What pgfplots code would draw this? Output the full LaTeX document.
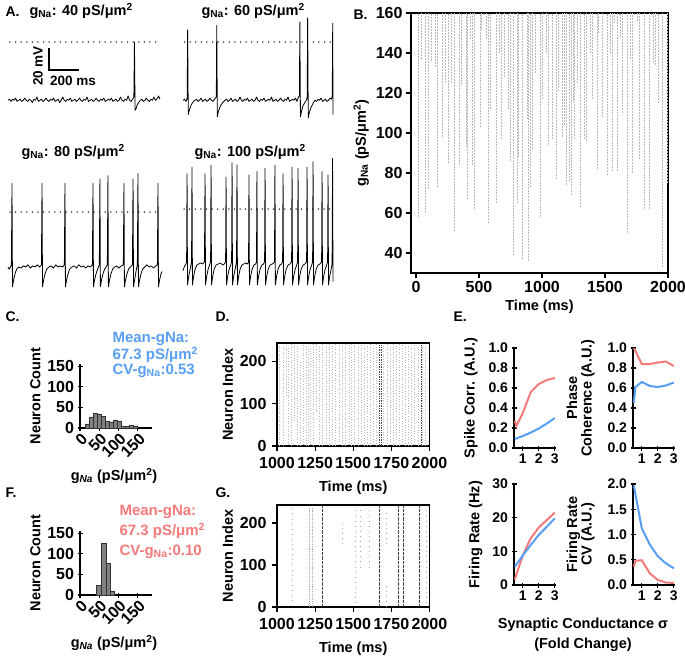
\documentclass[border=0pt]{standalone}
\usepackage{fontspec}
\setmainfont{Liberation Sans}
\usepackage{pgfplots}
\pgfplotsset{compat=1.18}

\definecolor{pk}{RGB}{245,122,122}
\definecolor{bl}{RGB}{88,158,242}
\newcommand\fz[1]{\fontsize{#1}{#1}\selectfont\bfseries}

\pgfplotsset{
  gp/.style={scale only axis, anchor=south west,
    axis line style={line width=1.2pt}, major tick style={line width=1.2pt, black},
    tick align=outside, major tick length=5pt,
    tick label style={font=\fz{16}}, label style={font=\fz{14.5}},
    /pgf/number format/assume math mode=true, /pgf/number format/1000 sep={},
    scaled ticks=false},
  trace/.style={hide axis, scale only axis, anchor=south west, height=154pt,
    xmin=0, xmax=1000, ymin=-80, ymax=60, clip=false},
  tr/.style={black, line width=0.8pt, line join=round},
  dotline/.style={black, line width=1.5pt, line cap=round, dash pattern=on 0pt off 5.6pt},
  eax/.style={gp, axis lines=left, axis line style={-}, width=41.6pt,
    xmin=0.45, xmax=3.05, xtick={1,2,3}, tick label style={font=\fz{14}}},
  raster/.style={draw=none, mark=none, forget plot,
    error bars/y dir=plus, error bars/y explicit, error bars/error mark=none,
    error bars/error bar style={#1}},
  hist/.style={gp, axis lines=left, axis line style={-}, width=72pt, height=63.8pt,
    xmin=0, xmax=187, ymin=0, ymax=155, xtick={0,50,100,150}, ytick={0,50,100,150},
    xticklabel style={rotate=45, anchor=east, xshift=3pt, yshift=-7pt},
    ylabel={Neuron Count}},
  rast/.style={gp, width=152.5pt, xmin=1000, xmax=2000, ymin=0, ymax=243,
    xtick={1000,1250,1500,1750,2000}, ytick={0,100,200},
    xtick pos=bottom, ytick pos=left, xticklabel shift=3pt, yticklabel shift=2pt,
    xlabel={Time (ms)}, ylabel={Neuron Index}, xlabel style={yshift=-5pt}},
}

\begin{document}
\begin{tikzpicture}

% ---- panel letters and titles
\node[anchor=west, font=\fz{14}] at (2pt,-12pt) {A.};
\node[anchor=west, font=\fz{14}] at (350pt,-15pt) {B.};
\node[anchor=west, font=\fz{14}] at (2pt,-317pt) {C.};
\node[anchor=west, font=\fz{14}] at (212pt,-317pt) {D.};
\node[anchor=west, font=\fz{14}] at (450pt,-317pt) {E.};
\node[anchor=west, font=\fz{14}] at (2pt,-493pt) {F.};
\node[anchor=west, font=\fz{14}] at (212pt,-493pt) {G.};

\node[anchor=west, font=\fz{14.5}] at (26pt,-11pt) {g\textsubscript{Na}: 40 pS/μm\textsuperscript{2}};
\node[anchor=west, font=\fz{14.5}] at (198pt,-11pt) {g\textsubscript{Na}: 60 pS/μm\textsuperscript{2}};
\node[anchor=west, font=\fz{14.5}] at (18pt,-152pt) {g\textsubscript{Na}: 80 pS/μm\textsuperscript{2}};
\node[anchor=west, font=\fz{14.5}] at (191pt,-152pt) {g\textsubscript{Na}: 100 pS/μm\textsuperscript{2}};

% scale bar
\draw[line width=1.3pt] (49pt,-48pt) -- (49pt,-70pt) -- (79pt,-70pt);
\node[rotate=90, font=\fz{13.5}] at (38pt,-66pt) {20 mV};
\node[anchor=west, font=\fz{13.5}, inner sep=0pt] at (50pt,-81pt) {200 ms};

% ---- A: voltage traces
\begin{axis}[trace, width=152pt, at={(8pt,-130pt)}]
\addplot[dotline] coordinates {(13,0)(980,0)};
\addplot[tr] coordinates {(0,-53)(10,-52)(20,-54)(30,-52)(40,-53)(50,-51)(60,-54)(70,-53)(80,-52)(90,-54)(100,-53)(110,-51)(120,-53)(130,-54)(140,-52)(150,-53)(160,-55)(170,-52)(180,-53)(190,-50)(200,-54)(210,-53)(220,-52)(230,-54)(240,-53)(250,-51)(260,-53)(270,-54)(280,-52)(290,-53)(300,-51)(310,-54)(320,-53)(330,-52)(340,-55)(350,-53)(360,-50)(370,-53)(380,-54)(390,-52)(400,-53)(410,-51)(420,-54)(430,-53)(440,-52)(450,-54)(460,-53)(470,-51)(480,-53)(490,-54)(500,-52)(510,-53)(520,-50)(530,-54)(540,-53)(550,-52)(560,-54)(570,-53)(580,-51)(590,-53)(600,-54)(610,-52)(620,-53)(630,-51)(640,-54)(650,-53)(660,-52)(670,-53)(680,-51)(690,-54)(700,-53)(710,-52)(720,-54)(730,-53)(740,-50)(750,-53)(760,-54)(770,-52)(780,-53)(790,-49)(800,-53)(810,-54)(820,-52)(828,-50)(832,0)(836,-62)(842,-61)(850,-57)(860,-55)(870,-53)(880,-52)(890,-54)(900,-53)(910,-51)(920,-53)(930,-54)(940,-52)(950,-53)(960,-50)(970,-53)(980,-52)(990,-49)(1000,-52)};
\end{axis}

\begin{axis}[trace, width=150pt, at={(183pt,-130pt)}]
\addplot[dotline] coordinates {(10,0)(1000,0)};
\addplot[tr] coordinates {(0,-53)(10,-52)(20,-54)(28,-51)(31,11)(35,-66)(42,-62)(55,-57)(70,-54)(80,-53)(90,-52)(100,-54)(110,-53)(120,-51)(130,-54)(140,-53)(150,-52)(160,-54)(170,-53)(180,-51)(190,-53)(200,-54)(210,-52)(222,-50)(225,15)(229,-68)(236,-63)(250,-58)(265,-55)(280,-53)(290,-52)(300,-54)(310,-53)(320,-51)(330,-54)(340,-53)(350,-52)(360,-54)(370,-53)(380,-50)(390,-53)(400,-54)(410,-52)(420,-53)(430,-51)(440,-54)(450,-53)(460,-52)(470,-54)(480,-53)(490,-50)(500,-53)(510,-54)(520,-52)(530,-53)(540,-51)(550,-54)(560,-53)(570,-52)(580,-53)(590,-50)(600,-54)(610,-53)(620,-52)(630,-54)(640,-53)(650,-51)(660,-53)(670,-54)(680,-52)(690,-53)(700,-50)(710,-54)(720,-53)(730,-52)(740,-53)(750,-51)(760,-54)(770,-50)(776,-49)(779,18)(783,-68)(790,-63)(800,-58)(812,-55)(822,-53)(828,-50)(831,22)(835,-69)(842,-64)(855,-59)(870,-55)(880,-53)(890,-54)(900,-52)(910,-53)(920,-51)(930,-54)(940,-53)(950,-52)(960,-54)(970,-53)(980,-51)(990,-52)(995,-49)(998,17)(1000,-66)};
\end{axis}

\begin{axis}[trace, width=154pt, at={(8pt,-300pt)}]
\addplot[dotline] coordinates {(13,0)(975,0)};
\addplot[tr] coordinates {(0,-50)(8,-52)(16,-50)(22,-48)(26,26)(29,-68)(36,-62)(46,-56)(56,-52)(70,-50)(85,-51)(100,-49)(115,-50)(130,-48)(145,-51)(160,-49)(175,-50)(190,-48)(205,-50)(217,-48)(221,26)(224,-68)(231,-62)(241,-56)(251,-52)(265,-50)(280,-49)(295,-51)(310,-48)(325,-50)(340,-49)(355,-50)(366,-48)(370,26)(373,-68)(380,-62)(390,-56)(400,-52)(415,-50)(430,-49)(445,-51)(460,-48)(475,-50)(490,-49)(505,-51)(520,-49)(535,-50)(548,-48)(552,26)(555,-68)(562,-62)(572,-56)(582,-52)(593,-48)(597,30)(600,-68)(607,-62)(617,-56)(627,-52)(637,-50)(645,-48)(649,33)(652,-68)(659,-62)(669,-56)(679,-52)(692,-50)(705,-49)(720,-51)(735,-49)(749,-48)(753,26)(756,-68)(763,-62)(773,-56)(783,-52)(795,-50)(808,-48)(812,30)(815,-68)(822,-62)(830,-55)(840,-48)(844,35)(847,-68)(854,-62)(864,-56)(874,-52)(888,-50)(902,-48)(916,-50)(930,-49)(945,-51)(960,-49)(970,-48)(974,26)(977,-68)(984,-62)(994,-56)(1000,-54)};
\end{axis}

\begin{axis}[trace, width=150pt, at={(183pt,-297pt)}]
\addplot[dotline] coordinates {(7,0)(1000,0)};
\addplot[tr] coordinates {(0,-56)(10,-52)(20,-50)(24,-48)(27,32)(30,-69)(37,-62)(47,-55)(57,-48)(60,38)(63,-69)(70,-62)(80,-55)(92,-51)(105,-50)(118,-49)(131,-50)(143,-48)(147,32)(150,-69)(157,-62)(167,-55)(177,-51)(184,-48)(187,40)(190,-69)(197,-62)(207,-55)(220,-51)(235,-50)(250,-49)(265,-51)(275,-50)(284,-48)(287,29)(290,-69)(297,-62)(307,-55)(318,-51)(324,-48)(327,42)(330,-69)(337,-62)(347,-55)(357,-48)(360,40)(363,-69)(370,-62)(380,-55)(392,-51)(405,-50)(418,-49)(430,-50)(437,-48)(440,31)(443,-69)(450,-62)(460,-55)(472,-51)(484,-50)(490,-48)(493,34)(496,-69)(503,-62)(513,-55)(525,-51)(537,-50)(544,-48)(547,37)(550,-69)(557,-62)(567,-55)(580,-51)(595,-50)(605,-49)(610,-48)(613,40)(616,-69)(623,-62)(633,-55)(645,-51)(657,-50)(664,-48)(667,32)(670,-69)(677,-62)(687,-55)(700,-51)(713,-50)(724,-48)(727,38)(730,-69)(737,-62)(747,-55)(758,-51)(764,-48)(767,37)(770,-69)(777,-62)(787,-55)(800,-51)(813,-50)(824,-48)(827,38)(830,-69)(837,-62)(847,-55)(858,-51)(864,-48)(867,43)(870,-69)(877,-62)(887,-55)(900,-51)(913,-50)(924,-48)(927,34)(930,-69)(937,-62)(947,-55)(958,-51)(964,-48)(967,31)(970,-69)(977,-62)(987,-55)(994,-50)(997,46)(1000,-66)};
\end{axis}

% ---- B: spike raster against gNa
\begin{axis}[gp, at={(411pt,-273pt)}, width=257pt, height=260pt,
  xmin=-40, xmax=2000, ymin=30, ymax=160,
  xtick={0,500,1000,1500,2000}, ytick={40,60,80,100,120,140,160},
  xtick pos=bottom, ytick pos=left, tick label style={font=\fz{16}},
  xlabel={Time (ms)}, ylabel={g\textsubscript{Na} (pS/μm\textsuperscript{2})}]
\addplot[raster={draw=gray!55, line width=0.6pt, dash pattern=on 0.6pt off 0.9pt}]
  table[x=t, y=g, y error expr={160-\thisrow{g}}] {
t g
15 58
40 137
75 60
100 72
120 136
150 133
170 73
205 98
230 125
255 85
280 125
300 51
340 84
360 124
395 93
405 67
430 147
450 84
465 62
510 103
520 152
560 147
575 55
590 112
635 65
660 140
680 97
700 128
730 112
745 86
775 39
800 65
815 88
845 37
880 107
895 36
905 73
925 92
950 130
985 58
1000 117
1030 140
1050 94
1080 97
1110 77
1130 121
1160 98
1180 104
1195 74
1215 76
1235 69
1250 116
1260 97
1280 125
1300 63
1335 97
1350 96
1380 140
1400 117
1435 82
1450 150
1480 108
1520 79
1540 140
1555 81
1570 155
1600 81
1620 148
1640 110
1680 50
1700 137
1720 80
1760 156
1770 87
1815 62
1850 62
1880 135
1900 134
1920 115
1955 33
1995 75
};
\end{axis}

% ---- C: histogram, wide gNa spread
\begin{axis}[hist, at={(80pt,-428pt)}]
\addplot[ybar interval, fill=gray, draw=gray!40!black, line width=0.4pt] coordinates
  {(13,10)(23.5,27)(34,36)(44.5,33)(55,29)(65.5,16)(76,15)(86.5,20)(97,17)(107.5,5)(118,4)(128.5,7)(139,5)(149.5,5)};
\end{axis}
\node[font=\fz{14.5}] at (114pt,-476pt) {g\textsubscript{\itshape Na} (pS/μm\textsuperscript{2})};
\node[anchor=west, text=bl, font=\fz{15}] at (109pt,-339pt) {Mean-gNa:};
\node[anchor=west, text=bl, font=\fz{15}] at (109pt,-355pt) {67.3 pS/μm\textsuperscript{2}};
\node[anchor=west, text=bl, font=\fz{15}] at (109pt,-371pt) {CV-g\textsubscript{Na}:0.53};

% ---- F: histogram, narrow gNa spread
\begin{axis}[hist, at={(80pt,-595pt)}]
\addplot[ybar interval, fill=gray, draw=gray!40!black, line width=0.4pt] coordinates
  {(43,24)(55,126)(67,77)(78,10)(89,10)};
\end{axis}
\node[font=\fz{14.5}] at (114pt,-643pt) {g\textsubscript{\itshape Na} (pS/μm\textsuperscript{2})};
\node[anchor=west, text=pk, font=\fz{15}] at (116pt,-512pt) {Mean-gNa:};
\node[anchor=west, text=pk, font=\fz{15}] at (116pt,-531pt) {67.3 pS/μm\textsuperscript{2}};
\node[anchor=west, text=pk, font=\fz{15}] at (116pt,-552pt) {CV-g\textsubscript{Na}:0.10};

% ---- D: raster, heterogeneous network
\begin{axis}[rast, at={(277pt,-446pt)}, height=103pt]
\addplot[raster={draw=gray!55, line width=0.6pt, dash pattern=on 0.6pt off 2pt}]
  table[x=t, y=lo, y error expr={\thisrow{hi}-\thisrow{lo}}] {
t lo hi
1015 2 240
1040 0 238
1060 120 240
1075 3 236
1095 0 240
1115 60 238
1130 2 240
1150 0 200
1170 4 240
1190 0 238
1205 1 240
1220 3 236
1240 0 240
1260 80 240
1280 2 238
1300 0 240
1320 5 236
1345 0 240
1365 2 238
1385 0 240
1410 4 240
1430 1 236
1450 0 240
1475 3 238
1490 0 240
1510 2 240
1530 0 236
1550 4 240
1570 0 238
1590 2 240
1610 0 240
1630 3 236
1650 0 240
1700 2 238
1720 0 240
1740 4 236
1760 0 240
1780 2 238
1800 0 240
1820 3 240
1840 0 236
1860 2 240
1880 0 238
1900 4 240
1925 0 236
1955 2 240
1975 0 238
};
\addplot[raster={draw=gray!55!black, line width=0.6pt, dash pattern=on 0.6pt off 1.1pt}]
  table[x=t, y=lo, y error expr={\thisrow{hi}-\thisrow{lo}}] {
t lo hi
1668 0 240
1682 0 240
1945 0 240
};
\end{axis}

% ---- G: raster, homogeneous network
\begin{axis}[rast, at={(277pt,-607pt)}, height=102pt]
\addplot[raster={draw=gray!70, line width=0.6pt, dash pattern=on 0.6pt off 4.5pt}]
  table[x=t, y=lo, y error expr={\thisrow{hi}-\thisrow{lo}}] {
t lo hi
1103 15 235
1428 150 210
1511 10 230
1548 95 230
1603 95 230
1719 0 60
1719 150 230
1976 10 235
};
\addplot[raster={draw=gray!70, line width=0.6pt, dash pattern=on 0.6pt off 1.3pt}]
  table[x=t, y=lo, y error expr={\thisrow{hi}-\thisrow{lo}}] {
t lo hi
1210 0 238
1232 0 238
};
\addplot[raster={draw=gray!50!black, line width=0.7pt, dash pattern=on 0.8pt off 0.5pt}]
  table[x=t, y=lo, y error expr={\thisrow{hi}-\thisrow{lo}}] {
t lo hi
1300 0 240
1673 0 240
1796 0 240
1827 0 240
1936 0 240
};
\end{axis}

% ---- E: network measures against synaptic conductance
\begin{axis}[eax, at={(514pt,-448pt)}, height=100pt, ymin=0, ymax=1,
  ytick={0,0.2,0.4,0.6,0.8,1}, yticklabel style={/pgf/number format/.cd, fixed, fixed zerofill, precision=1},
  ylabel={Spike Corr. (A.U.)}, ylabel style={yshift=4pt}]
\addplot[pk, line width=2pt] coordinates {(0.5,0.27)(0.6,0.22)(1,0.35)(1.5,0.56)(2,0.64)(2.5,0.68)(3,0.70)};
\addplot[bl, line width=2pt] coordinates {(0.5,0.09)(1,0.12)(1.5,0.155)(2,0.195)(2.5,0.245)(3,0.30)};
\end{axis}

\begin{axis}[eax, at={(633pt,-448pt)}, height=100pt, ymin=0, ymax=1,
  ytick={0,0.2,0.4,0.6,0.8,1}, yticklabel style={/pgf/number format/.cd, fixed, fixed zerofill, precision=1},
  ylabel={Phase\\Coherence (A.U.)}, ylabel style={align=center, yshift=6pt}]
\addplot[pk, line width=2pt] coordinates {(0.5,1.0)(0.6,0.97)(1,0.84)(1.5,0.84)(2,0.855)(2.5,0.865)(3,0.82)};
\addplot[bl, line width=2pt] coordinates {(0.5,0.45)(0.6,0.61)(1,0.66)(1.5,0.62)(2,0.61)(2.5,0.625)(3,0.655)};
\end{axis}

\begin{axis}[eax, at={(514pt,-585pt)}, height=101pt, ymin=0, ymax=30,
  ytick={0,10,20,30}, ylabel={Firing Rate (Hz)}, ylabel style={yshift=3pt}]
\addplot[pk, line width=2pt] coordinates {(0.5,1.7)(1,8.8)(1.5,13.9)(2,17.1)(2.5,19.3)(3,21.5)};
\addplot[bl, line width=2pt] coordinates {(0.5,5.4)(1,8.8)(1.5,11.9)(2,14.9)(2.5,17.3)(3,19.8)};
\end{axis}

\begin{axis}[eax, at={(633pt,-585pt)}, height=101pt, ymin=0, ymax=2,
  ytick={0,0.5,1,1.5,2}, yticklabel style={/pgf/number format/.cd, fixed, fixed zerofill, precision=1},
  ylabel={Firing Rate\\CV (A.U.)}, ylabel style={align=center, yshift=6pt}]
\addplot[pk, line width=2pt] coordinates {(0.5,0.36)(0.6,0.48)(1,0.49)(1.5,0.23)(2,0.1)(2.5,0.05)(3,0.04)};
\addplot[bl, line width=2pt] coordinates {(0.5,1.97)(1,1.12)(1.5,0.8)(2,0.57)(2.5,0.43)(3,0.33)};
\end{axis}

\node[font=\fz{14.5}] at (583pt,-625pt) {Synaptic Conductance σ};
\node[font=\fz{14.5}] at (583pt,-645pt) {(Fold Change)};

\pgfresetboundingbox
\useasboundingbox (0pt,0pt) rectangle (685pt,-659pt);
\end{tikzpicture}
\end{document}
